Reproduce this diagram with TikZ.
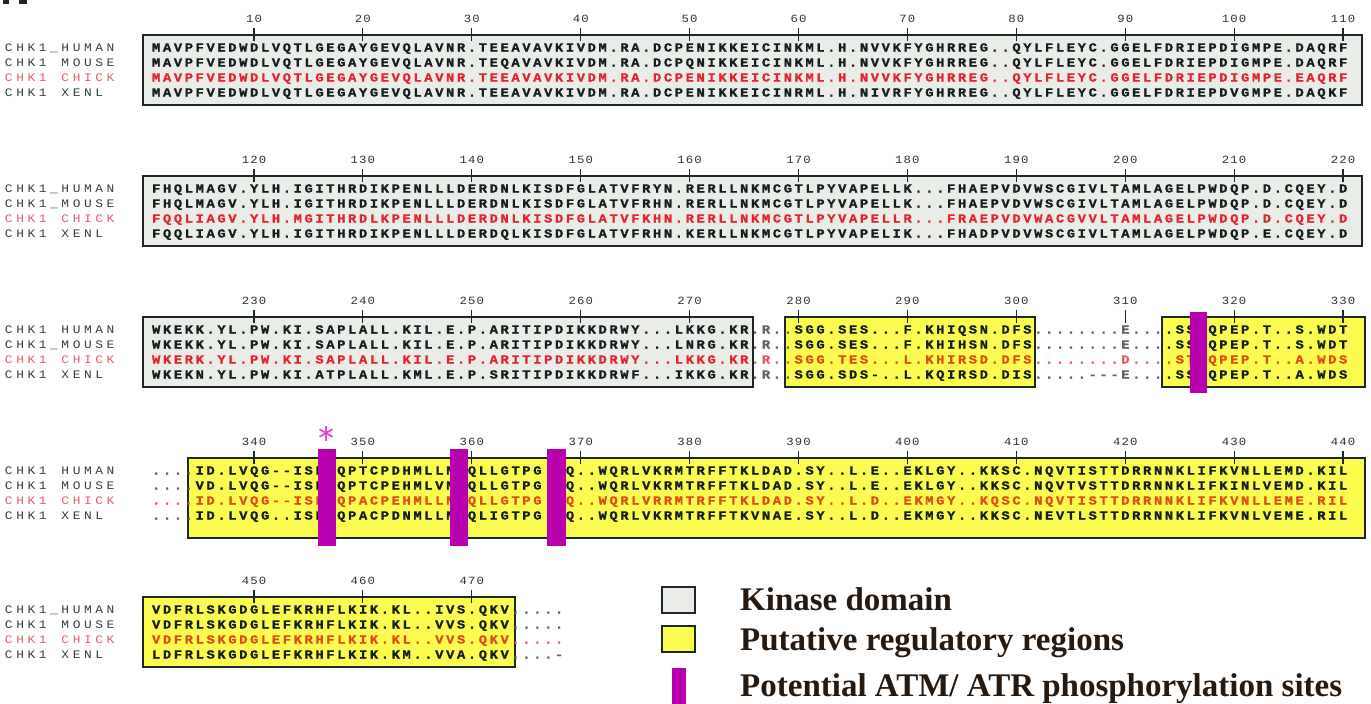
\documentclass[tikz,border=0pt]{standalone}
\usepackage{fontspec}
\usepackage{graphicx}
\newfontfamily\seqfont[BoldFeatures={FakeBold=1.2}]{Liberation Mono}
\newfontfamily\legfont{Liberation Serif}
\definecolor{kingray}{RGB}{233,236,231}
\definecolor{regyellow}{RGB}{252,252,80}
\definecolor{sitemag}{RGB}{185,0,175}
\definecolor{starpink}{RGB}{230,70,200}
\definecolor{boxline}{RGB}{28,40,40}
\definecolor{seqdark}{RGB}{20,30,30}
\definecolor{outgray}{RGB}{100,100,100}
\definecolor{numgray}{RGB}{45,50,50}
\definecolor{chickred}{RGB}{228,36,48}
\definecolor{chickorange}{RGB}{225,75,20}
\definecolor{chicklight}{RGB}{232,90,105}
\definecolor{namegray}{RGB}{50,62,62}
\definecolor{legdark}{RGB}{40,25,15}

\newlength\cellw
\def\cw{10.89pt}
\def\nw{11.3pt}
\def\spread#1#2{\setlength\cellw{#1}\expandafter\spreadloop#2\relax}
\def\spreadloop#1{\ifx#1\relax\else\makebox[\cellw]{\scalebox{1.12}[1]{#1}}\expandafter\spreadloop\fi}
\newcommand\cx[1]{156+10.89*(#1)}
\newcommand\lx[1]{150.555+10.89*(#1)}

\begin{document}
\begin{tikzpicture}[x=1pt,y=-1pt,
    seq/.style={anchor=base west,inner sep=0pt,font=\seqfont\bfseries\fontsize{12.3}{12}\selectfont,text=seqdark},
    seqred/.style={seq,text=chickred},
    seqorange/.style={seq,text=chickorange},
    seqout/.style={seq,text=outgray},
    seqoutred/.style={seq,text=chicklight},
    spec/.style={anchor=base west,inner sep=0pt,font=\seqfont\fontsize{11.5}{11}\selectfont,text=namegray},
    specred/.style={spec,text=chicklight},
    num/.style={anchor=base,inner sep=0pt,font=\seqfont\fontsize{11}{10}\selectfont,text=numgray},
    tickmark/.style={draw=boxline,line width=1.1pt},
    kinase/.style={draw=boxline,line width=1.8pt,fill=kingray},
    regul/.style={draw=boxline,line width=1.8pt,fill=regyellow},
    site/.style={fill=sitemag},
    legtext/.style={anchor=base west,inner sep=0pt,font=\legfont\bfseries\fontsize{33}{33}\selectfont,text=legdark}]

\useasboundingbox (0,0) rectangle (1371,704);
\fill[boxline] (3,0) rectangle (9,4);
\fill[boxline] (19,0) rectangle (27,4);

% block 1
\draw[kinase] (143,35) rectangle (1362,105);
\foreach \n [count=\i] in {10,20,...,110} {
  \draw[tickmark] ({\cx{\i*10-1}},28) -- ++(0,13);
  \node[num] (b1n\i) at ({\cx{\i*10-1}},22) {\spread{8.5pt}{\n}};
}
\node[spec] (b1hs) at (3,51.5) {\spread{\nw}{CHK1\_HUMAN}};
\node[spec] (b1ms) at (3,66.5) {\spread{\nw}{CHK1~MOUSE}};
\node[specred] (b1cs) at (3,81.5) {\spread{\nw}{CHK1~CHICK}};
\node[spec] (b1xs) at (3,96.5) {\spread{\nw}{CHK1~XENL}};
\node[seq] (b1h) at ({\lx{0}},51.5) {\spread{\cw}{MAVPFVEDWDLVQTLGEGAYGEVQLAVNR.TEEAVAVKIVDM.RA.DCPENIKKEICINKML.H.NVVKFYGHRREG..QYLFLEYC.GGELFDRIEPDIGMPE.DAQRF}};
\node[seq] (b1m) at ({\lx{0}},66.5) {\spread{\cw}{MAVPFVEDWDLVQTLGEGAYGEVQLAVNR.TEQAVAVKIVDM.RA.DCPQNIKKEICINKML.H.NVVKFYGHRREG..QYLFLEYC.GGELFDRIEPDIGMPE.DAQRF}};
\node[seqred] (b1c) at ({\lx{0}},81.5) {\spread{\cw}{MAVPFVEDWDLVQTLGEGAYGEVQLAVNR.TEEAVAVKIVDM.RA.DCPENIKKEICINKML.H.NVVKFYGHRREG..QYLFLEYC.GGELFDRIEPDIGMPE.EAQRF}};
\node[seq] (b1x) at ({\lx{0}},96.5) {\spread{\cw}{MAVPFVEDWDLVQTLGEGAYGEVQLAVNR.TEEAVAVKIVDM.RA.DCPENIKKEICINRML.H.NIVRFYGHRREG..QYLFLEYC.GGELFDRIEPDVGMPE.DAQKF}};

% block 2
\draw[kinase] (143,176) rectangle (1362,246);
\foreach \n [count=\i] in {120,130,...,220} {
  \draw[tickmark] ({\cx{\i*10-1}},169) -- ++(0,13);
  \node[num] (b2n\i) at ({\cx{\i*10-1}},163) {\spread{8.5pt}{\n}};
}
\node[spec] (b2hs) at (3,192.5) {\spread{\nw}{CHK1\_HUMAN}};
\node[spec] (b2ms) at (3,207.5) {\spread{\nw}{CHK1\_MOUSE}};
\node[specred] (b2cs) at (3,222.5) {\spread{\nw}{CHK1~CHICK}};
\node[spec] (b2xs) at (3,237.5) {\spread{\nw}{CHK1~XENL}};
\node[seq] (b2h) at ({\lx{0}},192.5) {\spread{\cw}{FHQLMAGV.YLH.IGITHRDIKPENLLLDERDNLKISDFGLATVFRYN.RERLLNKMCGTLPYVAPELLK...FHAEPVDVWSCGIVLTAMLAGELPWDQP.D.CQEY.D}};
\node[seq] (b2m) at ({\lx{0}},207.5) {\spread{\cw}{FHQLMAGV.YLH.IGITHRDIKPENLLLDERDNLKISDFGLATVFRHN.RERLLNKMCGTLPYVAPELLK...FHAEPVDVWSCGIVLTAMLAGELPWDQP.D.CQEY.D}};
\node[seqred] (b2c) at ({\lx{0}},222.5) {\spread{\cw}{FQQLIAGV.YLH.MGITHRDLKPENLLLDERDNLKISDFGLATVFKHN.RERLLNKMCGTLPYVAPELLR...FRAEPVDVWACGVVLTAMLAGELPWDQP.D.CQEY.D}};
\node[seq] (b2x) at ({\lx{0}},237.5) {\spread{\cw}{FQQLIAGV.YLH.IGITHRDIKPENLLLDERDQLKISDFGLATVFRHN.KERLLNKMCGTLPYVAPELIK...FHADPVDVWSCGIVLTAMLAGELPWDQP.E.CQEY.D}};

% block 3
\draw[kinase] (143,317) rectangle (753,387);
\draw[regul] (785,317) rectangle (1035,387);
\draw[regul] (1162,317) rectangle (1365,387);
\foreach \n [count=\i] in {230,240,...,330} {
  \draw[tickmark] ({\cx{\i*10-1}},310) -- ++(0,13);
  \node[num] (b3n\i) at ({\cx{\i*10-1}},304) {\spread{8.5pt}{\n}};
}
\node[spec] (b3hs) at (3,333.5) {\spread{\nw}{CHK1~HUMAN}};
\node[spec] (b3ms) at (3,348.5) {\spread{\nw}{CHK1\_MOUSE}};
\node[specred] (b3cs) at (3,363.5) {\spread{\nw}{CHK1~CHICK}};
\node[spec] (b3xs) at (3,378.5) {\spread{\nw}{CHK1~XENL}};
\node[seq] (b3h) at ({\lx{0}},333.5) {\spread{\cw}{WKEKK.YL.PW.KI.SAPLALL.KIL.E.P.ARITIPDIKKDRWY...LKKG.KR}};
\node[seq] (b3m) at ({\lx{0}},348.5) {\spread{\cw}{WKEKK.YL.PW.KI.SAPLALL.KIL.E.P.ARITIPDIKKDRWY...LNRG.KR}};
\node[seqred] (b3c) at ({\lx{0}},363.5) {\spread{\cw}{WKERK.YL.PW.KI.SAPLALL.KIL.E.P.ARITIPDIKKDRWY...LKKG.KR}};
\node[seq] (b3x) at ({\lx{0}},378.5) {\spread{\cw}{WKEKN.YL.PW.KI.ATPLALL.KML.E.P.SRITIPDIKKDRWF...IKKG.KR}};
\node[seqout] (b3ha) at ({\lx{55}},333.5) {\spread{\cw}{.R..}};
\node[seqout] (b3ma) at ({\lx{55}},348.5) {\spread{\cw}{.R..}};
\node[seqoutred] (b3ca) at ({\lx{55}},363.5) {\spread{\cw}{.R..}};
\node[seqout] (b3xa) at ({\lx{55}},378.5) {\spread{\cw}{.R..}};
\node[seq] (b3hb) at ({\lx{59}},333.5) {\spread{\cw}{SGG.SES...F.KHIQSN.DFS}};
\node[seq] (b3mb) at ({\lx{59}},348.5) {\spread{\cw}{SGG.SES...F.KHIHSN.DFS}};
\node[seqorange] (b3cb) at ({\lx{59}},363.5) {\spread{\cw}{SGG.TES...L.KHIRSD.DFS}};
\node[seq] (b3xb) at ({\lx{59}},378.5) {\spread{\cw}{SGG.SDS-..L.KQIRSD.DIS}};
\node[seqout] (b3hc) at ({\lx{81}},333.5) {\spread{\cw}{........E...}};
\node[seqout] (b3mc) at ({\lx{81}},348.5) {\spread{\cw}{........E...}};
\node[seqoutred] (b3cc) at ({\lx{81}},363.5) {\spread{\cw}{........D...}};
\node[seqout] (b3xc) at ({\lx{81}},378.5) {\spread{\cw}{.....---E...}};
\node[seq] (b3hd) at ({\lx{93}},333.5) {\spread{\cw}{.SSSQPEP.T..S.WDT}};
\node[seq] (b3md) at ({\lx{93}},348.5) {\spread{\cw}{.SSSQPEP.T..S.WDT}};
\node[seqorange] (b3cd) at ({\lx{93}},363.5) {\spread{\cw}{.STSQPEP.T..A.WDS}};
\node[seq] (b3xd) at ({\lx{93}},378.5) {\spread{\cw}{.SSSQPEP.T..A.WDS}};
\fill[site] (1190,312) rectangle (1207,393);

% block 4
\draw[regul] (188,458) rectangle (1365,538);
\foreach \n [count=\i] in {340,350,...,440} {
  \draw[tickmark] ({\cx{\i*10-1}},451) -- ++(0,13);
  \node[num] (b4n\i) at ({\cx{\i*10-1}},445) {\spread{8.5pt}{\n}};
}
\node[spec] (b4hs) at (3,474.5) {\spread{\nw}{CHK1~HUMAN}};
\node[spec] (b4ms) at (3,489.5) {\spread{\nw}{CHK1~MOUSE}};
\node[specred] (b4cs) at (3,504.5) {\spread{\nw}{CHK1~CHICK}};
\node[spec] (b4xs) at (3,519.5) {\spread{\nw}{CHK1~XENL}};
\node[seqout] (b4ha) at ({\lx{0}},474.5) {\spread{\cw}{....}};
\node[seqout] (b4ma) at ({\lx{0}},489.5) {\spread{\cw}{....}};
\node[seqoutred] (b4ca) at ({\lx{0}},504.5) {\spread{\cw}{....}};
\node[seqout] (b4xa) at ({\lx{0}},519.5) {\spread{\cw}{....}};
\node[seq] (b4h) at ({\lx{4}},474.5) {\spread{\cw}{ID.LVQG--ISFSQPTCPDHMLLNSQLLGTPG.SQ..WQRLVKRMTRFFTKLDAD.SY..L.E..EKLGY..KKSC.NQVTISTTDRRNNKLIFKVNLLEMD.KIL}};
\node[seq] (b4m) at ({\lx{4}},489.5) {\spread{\cw}{VD.LVQG--ISFSQPTCPEHMLVNSQLLGTPG.SQ..WQRLVKRMTRFFTKLDAD.SY..L.E..EKLGY..KKSC.NQVTVSTTDRRNNKLIFKINLVEMD.KIL}};
\node[seqorange] (b4c) at ({\lx{4}},504.5) {\spread{\cw}{ID.LVQG--ISFSQPACPEHMLLNSQLLGTPG.SQ..WQRLVRRMTRFFTKLDAD.SY..L.D..EKMGY..KQSC.NQVTISTTDRRNNKLIFKVNLLEME.RIL}};
\node[seq] (b4x) at ({\lx{4}},519.5) {\spread{\cw}{ID.LVQG..ISFSQPACPDNMLLNSQLIGTPG.SQ..WQRLVKRMTRFFTKVNAE.SY..L.D..EKMGY..KKSC.NEVTLSTTDRRNNKLIFKVNLVEME.RIL}};
\fill[site] (318,449) rectangle (336,546);
\fill[site] (450,449) rectangle (468,546);
\fill[site] (547,449) rectangle (566,546);
\foreach \a in {90,30,150}
  \draw[starpink,line width=1.8pt] (326,433) ++(\a:7.5) -- ++(\a+180:15);

% block 5
\draw[regul] (143,597) rectangle (515,667);
\foreach \n [count=\i] in {450,460,470} {
  \draw[tickmark] ({\cx{\i*10-1}},590) -- ++(0,13);
  \node[num] (b5n\i) at ({\cx{\i*10-1}},584) {\spread{8.5pt}{\n}};
}
\node[spec] (b5hs) at (3,613.5) {\spread{\nw}{CHK1\_HUMAN}};
\node[spec] (b5ms) at (3,628.5) {\spread{\nw}{CHK1~MOUSE}};
\node[specred] (b5cs) at (3,643.5) {\spread{\nw}{CHK1~CHICK}};
\node[spec] (b5xs) at (3,658.5) {\spread{\nw}{CHK1~XENL}};
\node[seq] (b5h) at ({\lx{0}},613.5) {\spread{\cw}{VDFRLSKGDGLEFKRHFLKIK.KL..IVS.QKV}};
\node[seq] (b5m) at ({\lx{0}},628.5) {\spread{\cw}{VDFRLSKGDGLEFKRHFLKIK.KL..VVS.QKV}};
\node[seqorange] (b5c) at ({\lx{0}},643.5) {\spread{\cw}{VDFRLSKGDGLEFKRHFLKIK.KL..VVS.QKV}};
\node[seq] (b5x) at ({\lx{0}},658.5) {\spread{\cw}{LDFRLSKGDGLEFKRHFLKIK.KM..VVA.QKV}};
\node[seqout] (b5ha) at ({\lx{33}},613.5) {\spread{\cw}{.....}};
\node[seqout] (b5ma) at ({\lx{33}},628.5) {\spread{\cw}{.....}};
\node[seqoutred] (b5ca) at ({\lx{33}},643.5) {\spread{\cw}{.....}};
\node[seqout] (b5xa) at ({\lx{33}},658.5) {\spread{\cw}{....-}};

% legend
\draw[kinase,line width=1.4pt] (662,587) rectangle (695,613);
\draw[regul,line width=1.4pt] (662,626) rectangle (695,652);
\fill[site] (672,668) rectangle (686,704);
\node[legtext] (lkin) at (740,610) {Kinase domain};
\node[legtext] (lreg) at (740,650) {Putative regulatory regions};
\node[legtext] (lsite) at (740,696) {Potential ATM/ ATR phosphorylation sites};

\end{tikzpicture}
\end{document}
